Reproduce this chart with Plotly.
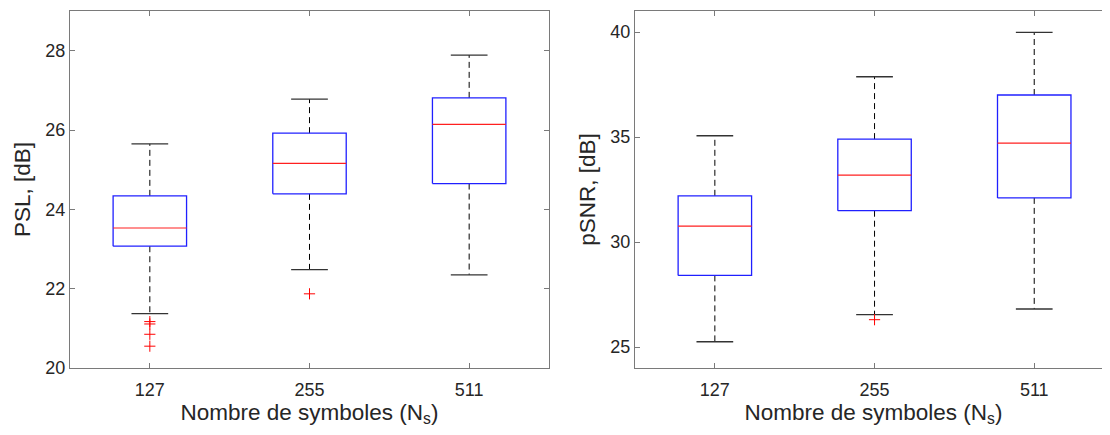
import plotly.graph_objects as go

# ── Data ─────────────────────────────────────────────────────────────────
categories = ["127", "255", "511"]

psl_q1 = [23.07, 24.39, 24.65]
psl_median = [23.53, 25.16, 26.14]
psl_q3 = [24.34, 25.92, 26.81]
psl_low = [21.37, 22.48, 22.35]
psl_high = [25.65, 26.78, 27.89]
psl_outliers = [[21.17, 21.11, 20.85, 20.55], [21.87], []]

psnr_q1 = [28.41, 31.49, 32.10]
psnr_median = [30.76, 33.18, 34.71]
psnr_q3 = [32.20, 34.90, 37.00]
psnr_low = [25.25, 26.54, 26.81]
psnr_high = [35.06, 37.87, 39.98]
psnr_outliers = [[], [26.30], []]

BOX_HALF = 0.23
CAP_HALF = 0.115
FONT = "Liberation Sans, Arial, Helvetica, sans-serif"
TEXT = "#262626"
FRAME = "#7a7a7a"


def add_boxplot(fig, q1, med, q3, low, high, outliers, xref, yref):
    bx, by, mx, my, wx, wy, cx, cy, ox, oy = ([] for _ in range(10))
    for i in range(len(q1)):
        p = i + 1
        l, r = p - BOX_HALF, p + BOX_HALF
        bx += [l, r, r, l, l, None]
        by += [q1[i], q1[i], q3[i], q3[i], q1[i], None]
        mx += [l, r, None]
        my += [med[i], med[i], None]
        wx += [p, p, None, p, p, None]
        wy += [q3[i], high[i], None, q1[i], low[i], None]
        cx += [p - CAP_HALF, p + CAP_HALF, None, p - CAP_HALF, p + CAP_HALF, None]
        cy += [high[i], high[i], None, low[i], low[i], None]
        for v in outliers[i]:
            ox.append(p)
            oy.append(v)

    common = dict(xaxis=xref, yaxis=yref, showlegend=False, hoverinfo="skip")
    fig.add_trace(go.Scatter(x=wx, y=wy, mode="lines",
                             line=dict(color="black", width=1, dash="6px,4px"), **common))
    fig.add_trace(go.Scatter(x=cx, y=cy, mode="lines",
                             line=dict(color="#333333", width=1.3), **common))
    fig.add_trace(go.Scatter(x=bx, y=by, mode="lines",
                             line=dict(color="#2020ff", width=1.3), **common))
    fig.add_trace(go.Scatter(x=mx, y=my, mode="lines",
                             line=dict(color="#ff2020", width=1.2), **common))
    fig.add_trace(go.Scatter(x=ox, y=oy, mode="markers",
                             marker=dict(symbol="cross-thin", size=8,
                                         line=dict(color="#ff0000", width=1)),
                             **common))


fig = go.Figure()
add_boxplot(fig, psl_q1, psl_median, psl_q3, psl_low, psl_high, psl_outliers, "x", "y")
add_boxplot(fig, psnr_q1, psnr_median, psnr_q3, psnr_low, psnr_high, psnr_outliers, "x2", "y2")

title_font = dict(family=FONT, size=22.5, color=TEXT)
tick_font = dict(family=FONT, size=18, color=TEXT)

xcommon = dict(
    tickvals=[1, 2, 3], ticktext=categories,
    ticks="inside", ticklen=5, tickcolor=FRAME, ticklabelstandoff=5,
    showline=True, linecolor=FRAME, linewidth=1, mirror="ticks",
    showgrid=False, zeroline=False, automargin=False,
    tickfont=tick_font,
    title=dict(text="Nombre de symboles (N<sub>s</sub>)", font=title_font, standoff=0),
)
ycommon = dict(
    ticks="inside", ticklen=5, tickcolor=FRAME,
    showline=True, linecolor=FRAME, linewidth=1, mirror="ticks",
    showgrid=False, zeroline=False, automargin=False,
    tickfont=tick_font,
)

# the page body adds an 8px offset, so the figure is laid out 8px up and left
L = 62
W = 1110 - L
fig.update_layout(
    width=1110, height=435,
    margin=dict(l=L, r=0, t=2.5, b=75),
    plot_bgcolor="white", paper_bgcolor="white",
    xaxis=dict(domain=[0, 479 / W], range=[0.5, 3.5], **xcommon),
    xaxis2=dict(domain=[(627 - L) / W, (1104 - L) / W], range=[0.5, 3.487],
                anchor="y2", **xcommon),
    yaxis=dict(range=[20, 29], tickvals=[20, 22, 24, 26, 28],
               title=dict(text="PSL, [dB]", font=title_font, standoff=8),
               **ycommon),
    yaxis2=dict(range=[24, 41], tickvals=[25, 30, 35, 40], anchor="x2",
                title=dict(text="pSNR, [dB]", font=title_font, standoff=8),
                **ycommon),
)

fig.write_html("out.html")
